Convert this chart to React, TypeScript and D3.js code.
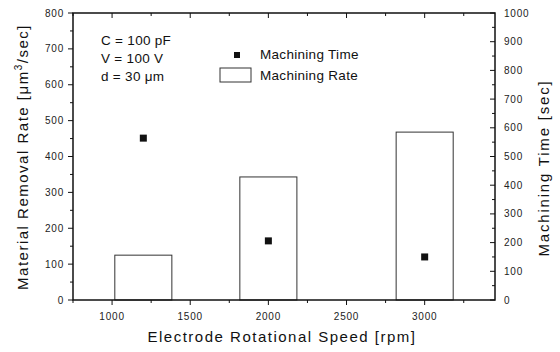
import React from 'react';
import * as d3 from 'd3';

// values
const speeds = [1200, 2000, 3000];
const removalRate = [125, 343, 468];
const machiningTime = [564, 206, 150];
const xTicks = [1000, 1500, 2000, 2500, 3000];
const leftTicks = [0, 100, 200, 300, 400, 500, 600, 700, 800];
const rightTicks = [0, 100, 200, 300, 400, 500, 600, 700, 800, 900, 1000];
const notes = ['C = 100 pF', 'V = 100 V', 'd = 30 \u03bcm'];

const W = 560;
const H = 352;
const margin = { top: 13, right: 65, bottom: 52, left: 73 };
const font = '"Liberation Sans", Arial, sans-serif';
const barWidthRpm = 365;

const App = () => {
  const x = d3.scaleLinear().domain([750, 3450]).range([margin.left, W - margin.right]);
  const yL = d3.scaleLinear().domain([0, 800]).range([H - margin.bottom, margin.top]);
  const yR = d3.scaleLinear().domain([0, 1000]).range([H - margin.bottom, margin.top]);
  const x0 = x.range()[0], x1 = x.range()[1];
  const y0 = yL.range()[0], y1 = yL.range()[1];

  const xMinor = d3.range(750, 3451, 250).filter(v => !xTicks.includes(v));
  const lMinor = d3.range(50, 800, 100);
  const rMinor = d3.range(50, 1000, 100);

  return (
    <svg width={W} height={H} style={{ position: 'absolute', left: 0, top: 0, background: '#fff' }} fontFamily={font}>
      {/* bars: machining rate */}
      {speeds.map((s, i) => (
        <rect key={'b' + i}
          x={x(s - barWidthRpm / 2)} y={yL(removalRate[i])}
          width={x(s + barWidthRpm / 2) - x(s - barWidthRpm / 2)}
          height={y0 - yL(removalRate[i])}
          fill="none" stroke="#333" strokeWidth={1} />
      ))}
      {/* points: machining time */}
      {speeds.map((s, i) => (
        <rect key={'p' + i} x={x(s) - 3.5} y={yR(machiningTime[i]) - 3.5} width={7} height={7} fill="#111" />
      ))}

      {/* frame */}
      <rect x={x0} y={y1} width={x1 - x0} height={y0 - y1} fill="none" stroke="#111" strokeWidth={1.5} />

      {/* bottom / top ticks */}
      {xTicks.map(t => (
        <g key={'xt' + t}>
          <line x1={x(t)} x2={x(t)} y1={y0} y2={y0 + 5} stroke="#111" />
          <line x1={x(t)} x2={x(t)} y1={y1} y2={y1 + 5} stroke="#111" />
          <text x={x(t)} y={y0 + 20} textAnchor="middle" fontSize={10} letterSpacing={0.8} fill="#222">{t}</text>
        </g>
      ))}
      {xMinor.map(t => (
        <g key={'xm' + t}>
          <line x1={x(t)} x2={x(t)} y1={y0} y2={y0 + 3} stroke="#111" />
          <line x1={x(t)} x2={x(t)} y1={y1} y2={y1 + 3} stroke="#111" />
        </g>
      ))}

      {/* left axis */}
      {leftTicks.map(t => (
        <g key={'lt' + t}>
          <line x1={x0 - 5} x2={x0} y1={yL(t)} y2={yL(t)} stroke="#111" />
          <text x={x0 - 9} y={yL(t) + 3.5} textAnchor="end" fontSize={10} letterSpacing={0.8} fill="#222">{t}</text>
        </g>
      ))}
      {lMinor.map(t => (
        <line key={'lm' + t} x1={x0 - 3} x2={x0} y1={yL(t)} y2={yL(t)} stroke="#111" />
      ))}

      {/* right axis */}
      {rightTicks.map(t => (
        <g key={'rt' + t}>
          <line x1={x1 - 5} x2={x1} y1={yR(t)} y2={yR(t)} stroke="#111" />
          <text x={x1 + 9} y={yR(t) + 3.5} textAnchor="start" fontSize={10} letterSpacing={0.8} fill="#222">{t}</text>
        </g>
      ))}
      {rMinor.map(t => (
        <line key={'rm' + t} x1={x1 - 3} x2={x1} y1={yR(t)} y2={yR(t)} stroke="#111" />
      ))}

      {/* axis titles */}
      <text x={282} y={342} textAnchor="middle" fontSize={15} letterSpacing={1.5} fill="#111">Electrode Rotational Speed [rpm]</text>
      <text transform={`translate(28,157) rotate(-90)`} textAnchor="middle" fontSize={15} letterSpacing={1.5} fill="#111">
        Material Removal Rate [{'\u03bc'}m<tspan dy={-6} fontSize={10}>3</tspan><tspan dy={6}>/sec]</tspan>
      </text>
      <text transform={`translate(549,168) rotate(-90)`} textAnchor="middle" fontSize={15} letterSpacing={1.8} fill="#111">Machining Time [sec]</text>

      {/* conditions */}
      {notes.map((n, i) => (
        <text key={'n' + i} x={101} y={45 + i * 18} fontSize={13.5} letterSpacing={0.3} fill="#111">{n}</text>
      ))}

      {/* legend */}
      <rect x={234} y={52} width={6} height={6} fill="#111" />
      <text x={260} y={59} fontSize={13.5} letterSpacing={0.3} fill="#111">Machining Time</text>
      <rect x={220} y={68} width={31} height={14} fill="none" stroke="#333" strokeWidth={1} />
      <text x={260} y={80} fontSize={13.5} letterSpacing={0.3} fill="#111">Machining Rate</text>
    </svg>
  );
};

export default App;
